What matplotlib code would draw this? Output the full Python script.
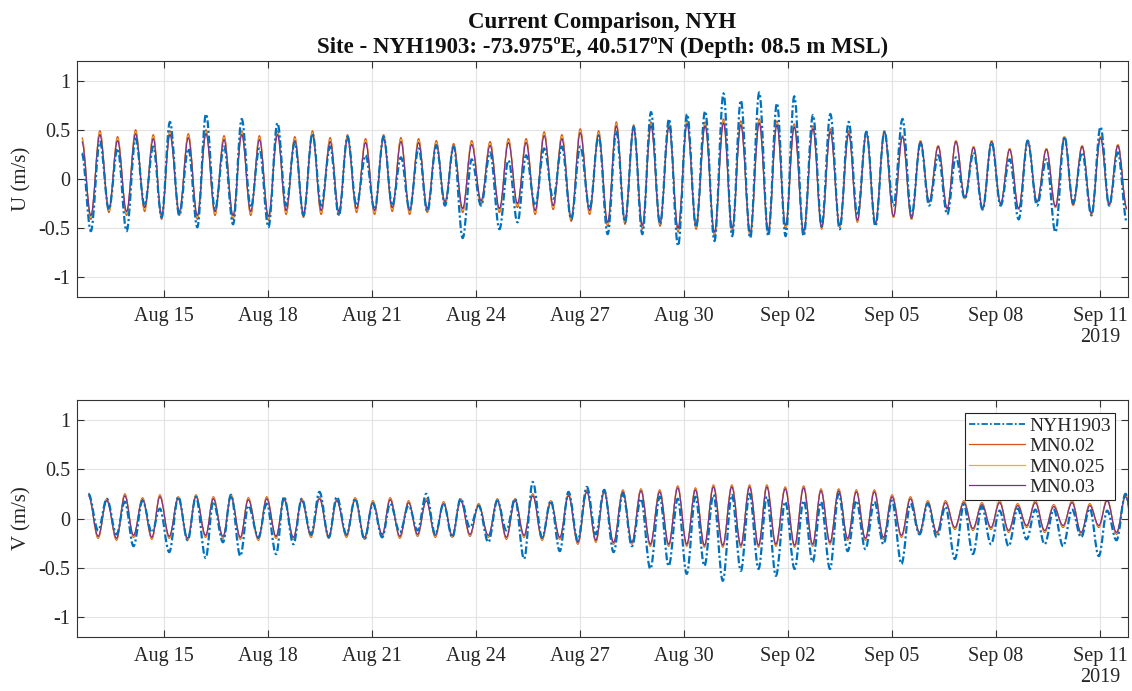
import datetime as dt
import numpy as np
import matplotlib
matplotlib.use('Agg')
import matplotlib.pyplot as plt
import matplotlib.dates as mdates
import matplotlib.transforms as mtransforms
from matplotlib.path import Path
from matplotlib.patches import PathPatch
from matplotlib.lines import Line2D

# Times are given as day-of-August 2019 (32.5 = Sep 1, 12:00).
# Each tidal cycle is stored as its flood peak and the following ebb trough.

# ---- U component ----
u_t_hi = [12.64, 13.16, 13.67, 14.19, 14.70, 15.18, 15.71, 16.22, 16.74, 17.25,
          17.76, 18.28, 18.78, 19.29, 19.80, 20.30, 20.82, 21.34, 21.84, 22.35,
          22.86, 23.36, 23.88, 24.41, 24.94, 25.45, 25.97, 26.48, 27.01, 27.54,
          28.05, 28.55, 29.05, 29.57, 30.09, 30.61, 31.14, 31.64, 32.17, 32.68,
          33.18, 33.72, 34.22, 34.75, 35.26, 35.78, 36.30, 36.82, 37.33, 37.84,
          38.35, 38.87, 39.39, 39.91, 40.45, 40.97, 41.48, 42.01, 42.51]
u_t_lo = [12.90, 13.42, 13.93, 14.45, 14.94, 15.45, 15.97, 16.48, 17.00, 17.51,
          18.02, 18.53, 19.03, 19.54, 20.05, 20.56, 21.08, 21.59, 22.09, 22.60,
          23.11, 23.62, 24.15, 24.68, 25.20, 25.71, 26.23, 26.75, 27.28, 27.80,
          28.30, 28.80, 29.31, 29.83, 30.35, 30.88, 31.39, 31.91, 32.43, 32.93,
          33.45, 33.97, 34.49, 35.00, 35.52, 36.04, 36.56, 37.07, 37.59, 38.10,
          38.61, 39.13, 39.65, 40.18, 40.71, 41.22, 41.75, 42.26, 42.77]

u_obs_hi = [0.26, 0.38, 0.31, 0.41, 0.33, 0.58, 0.31, 0.66, 0.33, 0.61,
            0.31, 0.57, 0.37, 0.46, 0.33, 0.43, 0.24, 0.43, 0.22, 0.31,
            0.34, 0.33, 0.20, 0.27, 0.19, 0.24, 0.31, 0.33, 0.33, 0.44,
            0.49, 0.53, 0.68, 0.61, 0.66, 0.69, 0.87, 0.80, 0.88, 0.77,
            0.84, 0.65, 0.66, 0.58, 0.48, 0.48, 0.61, 0.37, 0.24, 0.22,
            0.27, 0.37, 0.20, 0.39, 0.20, 0.43, 0.27, 0.53, 0.27]
u_obs_lo = [-0.53, -0.31, -0.53, -0.27, -0.39, -0.37, -0.49, -0.31, -0.46, -0.29,
            -0.49, -0.27, -0.37, -0.27, -0.37, -0.27, -0.31, -0.27, -0.31, -0.33,
            -0.27, -0.60, -0.27, -0.51, -0.44, -0.27, -0.20, -0.41, -0.30, -0.56,
            -0.44, -0.56, -0.46, -0.68, -0.49, -0.63, -0.58, -0.60, -0.58, -0.58,
            -0.58, -0.48, -0.51, -0.37, -0.48, -0.27, -0.37, -0.27, -0.36, -0.20,
            -0.31, -0.27, -0.41, -0.27, -0.54, -0.24, -0.37, -0.27, -0.44]

u_mn020_hi = [0.42, 0.49, 0.43, 0.50, 0.45, 0.49, 0.46, 0.50, 0.44, 0.49,
              0.44, 0.49, 0.43, 0.49, 0.42, 0.45, 0.41, 0.45, 0.42, 0.41,
              0.39, 0.36, 0.39, 0.38, 0.41, 0.41, 0.48, 0.45, 0.51, 0.49,
              0.58, 0.55, 0.58, 0.57, 0.60, 0.58, 0.61, 0.59, 0.61, 0.59,
              0.56, 0.54, 0.51, 0.49, 0.48, 0.49, 0.44, 0.39, 0.34, 0.39,
              0.33, 0.39, 0.31, 0.39, 0.31, 0.43, 0.34, 0.43, 0.35]
u_mn020_lo = [-0.41, -0.34, -0.37, -0.33, -0.41, -0.37, -0.41, -0.37, -0.41, -0.37,
              -0.42, -0.36, -0.39, -0.36, -0.37, -0.34, -0.36, -0.33, -0.36, -0.34,
              -0.27, -0.34, -0.26, -0.34, -0.29, -0.36, -0.31, -0.43, -0.36, -0.48,
              -0.46, -0.51, -0.48, -0.54, -0.51, -0.58, -0.54, -0.58, -0.56, -0.51,
              -0.56, -0.51, -0.49, -0.44, -0.46, -0.39, -0.41, -0.24, -0.31, -0.20,
              -0.31, -0.26, -0.31, -0.24, -0.29, -0.27, -0.36, -0.27, -0.31]

u_mn025_hi = [0.40, 0.47, 0.41, 0.48, 0.43, 0.47, 0.44, 0.48, 0.42, 0.47,
              0.42, 0.47, 0.41, 0.47, 0.40, 0.43, 0.39, 0.43, 0.40, 0.39,
              0.37, 0.34, 0.37, 0.36, 0.39, 0.39, 0.46, 0.43, 0.49, 0.47,
              0.56, 0.53, 0.56, 0.55, 0.58, 0.56, 0.59, 0.57, 0.59, 0.57,
              0.54, 0.52, 0.49, 0.47, 0.48, 0.49, 0.44, 0.39, 0.34, 0.39,
              0.33, 0.39, 0.31, 0.39, 0.31, 0.43, 0.34, 0.43, 0.35]
u_mn025_lo = [-0.39, -0.32, -0.35, -0.31, -0.39, -0.35, -0.39, -0.35, -0.39, -0.35,
              -0.40, -0.34, -0.37, -0.34, -0.35, -0.32, -0.34, -0.31, -0.34, -0.32,
              -0.25, -0.32, -0.24, -0.32, -0.27, -0.34, -0.29, -0.41, -0.34, -0.46,
              -0.44, -0.49, -0.46, -0.52, -0.49, -0.56, -0.52, -0.56, -0.54, -0.49,
              -0.54, -0.50, -0.48, -0.43, -0.46, -0.39, -0.41, -0.24, -0.31, -0.20,
              -0.31, -0.26, -0.31, -0.24, -0.29, -0.27, -0.36, -0.27, -0.31]

u_mn030_hi = [0.38, 0.45, 0.39, 0.46, 0.41, 0.45, 0.42, 0.46, 0.40, 0.45,
              0.40, 0.45, 0.39, 0.45, 0.38, 0.41, 0.37, 0.41, 0.38, 0.37,
              0.35, 0.32, 0.35, 0.34, 0.37, 0.37, 0.44, 0.41, 0.47, 0.45,
              0.54, 0.51, 0.54, 0.53, 0.56, 0.54, 0.57, 0.55, 0.57, 0.55,
              0.53, 0.51, 0.48, 0.46, 0.47, 0.48, 0.43, 0.38, 0.33, 0.38,
              0.32, 0.38, 0.30, 0.38, 0.30, 0.42, 0.33, 0.42, 0.34]
u_mn030_lo = [-0.37, -0.30, -0.33, -0.29, -0.37, -0.33, -0.37, -0.33, -0.37, -0.33,
              -0.38, -0.32, -0.35, -0.32, -0.33, -0.30, -0.32, -0.29, -0.32, -0.30,
              -0.23, -0.30, -0.22, -0.30, -0.25, -0.32, -0.27, -0.39, -0.32, -0.44,
              -0.42, -0.47, -0.44, -0.50, -0.47, -0.54, -0.50, -0.54, -0.52, -0.47,
              -0.53, -0.49, -0.47, -0.42, -0.45, -0.38, -0.40, -0.23, -0.30, -0.19,
              -0.30, -0.25, -0.30, -0.23, -0.28, -0.26, -0.35, -0.26, -0.30]

# ---- V component ----
v_t_hi = [12.83, 13.36, 13.88, 14.39, 14.89, 15.42, 15.93, 16.43, 16.94, 17.44,
          17.97, 18.47, 18.98, 19.49, 19.99, 20.52, 21.03, 21.53, 22.06, 22.57,
          23.07, 23.56, 24.08, 24.62, 25.13, 25.64, 26.16, 26.67, 27.20, 27.70,
          28.24, 28.76, 29.30, 29.82, 30.33, 30.85, 31.38, 31.89, 32.39, 32.92,
          33.45, 33.95, 34.46, 34.97, 35.49, 36.00, 36.53, 37.03, 37.54, 38.07,
          38.59, 39.10, 39.62, 40.13, 40.66, 41.19, 41.70, 42.20, 42.73]
v_t_lo = [13.11, 13.64, 14.13, 14.66, 15.16, 15.69, 16.21, 16.71, 17.21, 17.73,
          18.24, 18.74, 19.25, 19.76, 20.27, 20.79, 21.30, 21.81, 22.32, 22.83,
          23.32, 23.83, 24.36, 24.88, 25.39, 25.91, 26.42, 26.94, 27.46, 27.97,
          28.50, 29.03, 29.56, 30.08, 30.59, 31.12, 31.64, 32.15, 32.65, 33.19,
          33.71, 34.21, 34.72, 35.23, 35.75, 36.27, 36.79, 37.29, 37.81, 38.33,
          38.85, 39.36, 39.88, 40.40, 40.93, 41.45, 41.96, 42.47, 42.99]

v_obs_hi = [0.25, 0.20, 0.17, 0.18, 0.10, 0.22, 0.22, 0.17, 0.24, 0.13,
            0.15, 0.22, 0.20, 0.27, 0.22, 0.20, 0.15, 0.15, 0.13, 0.25,
            0.15, 0.20, 0.13, 0.18, 0.20, 0.37, 0.18, 0.27, 0.32, 0.29,
            0.25, 0.20, 0.22, 0.20, 0.22, 0.24, 0.24, 0.25, 0.22, 0.17,
            0.18, 0.17, 0.25, 0.18, 0.17, 0.18, 0.15, 0.15, 0.12, 0.14,
            0.12, 0.08, 0.10, 0.09, 0.09, 0.09, 0.10, 0.08, 0.25]
v_obs_lo = [-0.12, -0.16, -0.28, -0.14, -0.34, -0.22, -0.40, -0.24, -0.38, -0.19,
            -0.36, -0.26, -0.16, -0.19, -0.16, -0.21, -0.19, -0.14, -0.12, -0.16,
            -0.19, -0.09, -0.24, -0.12, -0.41, -0.19, -0.33, -0.22, -0.16, -0.34,
            -0.28, -0.51, -0.48, -0.56, -0.48, -0.63, -0.53, -0.51, -0.58, -0.51,
            -0.44, -0.51, -0.33, -0.31, -0.26, -0.46, -0.16, -0.19, -0.41, -0.36,
            -0.26, -0.28, -0.21, -0.26, -0.28, -0.19, -0.38, -0.22, -0.20]

v_mn020_hi = [0.25, 0.20, 0.25, 0.21, 0.24, 0.22, 0.24, 0.22, 0.24, 0.21,
              0.22, 0.21, 0.20, 0.22, 0.20, 0.21, 0.18, 0.21, 0.18, 0.20,
              0.17, 0.20, 0.15, 0.20, 0.20, 0.25, 0.18, 0.25, 0.29, 0.29,
              0.29, 0.30, 0.29, 0.33, 0.31, 0.34, 0.34, 0.34, 0.34, 0.32,
              0.33, 0.30, 0.30, 0.29, 0.29, 0.24, 0.22, 0.18, 0.18, 0.18,
              0.16, 0.18, 0.15, 0.18, 0.14, 0.18, 0.15, 0.20, 0.24]
v_mn020_lo = [-0.20, -0.22, -0.19, -0.21, -0.20, -0.22, -0.19, -0.20, -0.21, -0.22,
              -0.20, -0.21, -0.19, -0.20, -0.19, -0.21, -0.18, -0.20, -0.18, -0.19,
              -0.19, -0.18, -0.19, -0.21, -0.19, -0.22, -0.21, -0.26, -0.24, -0.26,
              -0.26, -0.28, -0.28, -0.28, -0.29, -0.29, -0.29, -0.29, -0.28, -0.29,
              -0.28, -0.26, -0.22, -0.22, -0.21, -0.19, -0.16, -0.16, -0.11, -0.12,
              -0.11, -0.14, -0.09, -0.14, -0.09, -0.16, -0.09, -0.16, -0.12]

v_mn025_hi = [0.24, 0.19, 0.24, 0.20, 0.23, 0.21, 0.23, 0.21, 0.23, 0.20,
              0.21, 0.20, 0.19, 0.21, 0.19, 0.20, 0.17, 0.20, 0.17, 0.19,
              0.16, 0.19, 0.14, 0.19, 0.19, 0.24, 0.17, 0.24, 0.28, 0.28,
              0.28, 0.29, 0.28, 0.32, 0.30, 0.33, 0.33, 0.33, 0.33, 0.31,
              0.32, 0.29, 0.29, 0.28, 0.28, 0.23, 0.21, 0.17, 0.17, 0.17,
              0.15, 0.17, 0.14, 0.17, 0.13, 0.17, 0.14, 0.19, 0.23]
v_mn025_lo = [-0.19, -0.21, -0.18, -0.20, -0.19, -0.21, -0.18, -0.19, -0.20, -0.21,
              -0.19, -0.20, -0.18, -0.19, -0.18, -0.20, -0.17, -0.19, -0.17, -0.18,
              -0.18, -0.17, -0.18, -0.20, -0.18, -0.21, -0.20, -0.25, -0.23, -0.25,
              -0.25, -0.27, -0.27, -0.27, -0.28, -0.28, -0.28, -0.28, -0.27, -0.28,
              -0.27, -0.25, -0.21, -0.21, -0.20, -0.18, -0.15, -0.15, -0.10, -0.11,
              -0.10, -0.13, -0.08, -0.13, -0.08, -0.15, -0.08, -0.15, -0.11]

v_mn030_hi = [0.23, 0.18, 0.23, 0.19, 0.22, 0.20, 0.22, 0.20, 0.22, 0.19,
              0.20, 0.19, 0.18, 0.20, 0.18, 0.19, 0.16, 0.19, 0.16, 0.18,
              0.15, 0.18, 0.13, 0.18, 0.18, 0.23, 0.16, 0.23, 0.27, 0.27,
              0.27, 0.28, 0.27, 0.31, 0.29, 0.32, 0.32, 0.32, 0.32, 0.30,
              0.31, 0.28, 0.28, 0.27, 0.27, 0.22, 0.20, 0.16, 0.16, 0.16,
              0.14, 0.16, 0.13, 0.16, 0.12, 0.16, 0.13, 0.18, 0.22]
v_mn030_lo = [-0.18, -0.20, -0.17, -0.19, -0.18, -0.20, -0.17, -0.18, -0.19, -0.20,
              -0.18, -0.19, -0.17, -0.18, -0.17, -0.19, -0.16, -0.18, -0.16, -0.17,
              -0.17, -0.16, -0.17, -0.19, -0.17, -0.20, -0.19, -0.24, -0.22, -0.24,
              -0.24, -0.26, -0.26, -0.26, -0.27, -0.27, -0.27, -0.27, -0.26, -0.27,
              -0.26, -0.24, -0.20, -0.20, -0.19, -0.17, -0.14, -0.14, -0.09, -0.10,
              -0.09, -0.12, -0.07, -0.12, -0.07, -0.14, -0.07, -0.14, -0.10]

series_names = ['NYH1903', 'MN0.02', 'MN0.025', 'MN0.03']
series_colors = ['#0072BD', '#D95319', '#EDB120', '#7E2F8E']

x_range = [12.5, 42.8]
tick_days = [15, 18, 21, 24, 27, 30, 33, 36, 39, 42]

title_1 = 'Current Comparison, NYH'
title_2 = 'Site - NYH1903: -73.975\u00baE, 40.517\u00baN (Depth: 08.5 m MSL)'

SERIF = ['Liberation Serif', 'DejaVu Serif']
TXT = '#262626'
OBS_DASH = (0, (3.5, 1.2, 1, 1.2))

BASE = mdates.date2num(dt.datetime(2019, 8, 1))


def to_num(days):
    return BASE + np.asarray(days, dtype=float) - 1.0


def tidal_path(t_hi, hi, t_lo, lo, k=1 - 2 / np.pi):
    # peaks and troughs joined by cubic segments with flat tangents at the extremes
    t = np.empty(2 * len(hi))
    y = np.empty(2 * len(hi))
    t[0::2], t[1::2] = to_num(t_hi), to_num(t_lo)
    y[0::2], y[1::2] = hi, lo
    verts = [(t[0], y[0])]
    codes = [Path.MOVETO]
    for i in range(len(t) - 1):
        d = t[i + 1] - t[i]
        verts += [(t[i] + k * d, y[i]), (t[i + 1] - k * d, y[i + 1]), (t[i + 1], y[i + 1])]
        codes += [Path.CURVE4] * 3
    return Path(verts, codes)


def style_axes(ax, ylabel):
    ax.set_xlim(to_num(x_range))
    ax.set_ylim(-1.2, 1.2)
    ax.set_yticks([-1, -0.5, 0, 0.5, 1])
    ax.set_yticklabels(['-1', '-0.5', '0', '0.5', '1'])
    ax.set_xticks(to_num(tick_days))
    ax.xaxis.set_major_formatter(mdates.DateFormatter('%b %d'))
    ax.grid(True, color='#e3e3e3', lw=0.8)
    ax.set_axisbelow(True)
    ax.tick_params(direction='in', top=True, right=True, length=5, width=0.8,
                   color='#333333', labelcolor=TXT, labelsize=14.5)
    ax.tick_params(axis='x', pad=7)
    ax.tick_params(axis='y', pad=5)
    for lab in ax.get_xticklabels() + ax.get_yticklabels():
        lab.set_family(SERIF)
    for sp in ax.spines.values():
        sp.set_color('#333333')
        sp.set_linewidth(0.8)
    ax.set_ylabel(ylabel, family=SERIF, fontsize=15, color=TXT)
    ax.yaxis.set_label_coords(-0.043, 0.5)
    trans = mtransforms.blended_transform_factory(ax.transData, ax.transAxes)
    ax.text(to_num(tick_days[-1]), -0.17, '2019', transform=trans, ha='center',
            va='center', family=SERIF, fontsize=14.5, color=TXT)


def draw_panel(ax, t_hi, t_lo, runs):
    # model runs first, measured record on top
    for i in range(1, len(runs)):
        hi, lo = runs[i]
        ax.add_patch(PathPatch(tidal_path(t_hi, hi, t_lo, lo), fill=False,
                               edgecolor=series_colors[i], lw=0.9, zorder=2 + i))
    hi, lo = runs[0]
    ax.add_patch(PathPatch(tidal_path(t_hi, hi, t_lo, lo), fill=False,
                           edgecolor=series_colors[0], lw=1.6, linestyle=OBS_DASH,
                           zorder=8))


fig = plt.figure(figsize=(11.32, 6.91), dpi=100)
ax_u = fig.add_axes([0.0680, 0.5702, 0.9284, 0.3415])
ax_v = fig.add_axes([0.0680, 0.0781, 0.9284, 0.3430])

draw_panel(ax_u, u_t_hi, u_t_lo,
           [(u_obs_hi, u_obs_lo), (u_mn020_hi, u_mn020_lo),
            (u_mn025_hi, u_mn025_lo), (u_mn030_hi, u_mn030_lo)])
draw_panel(ax_v, v_t_hi, v_t_lo,
           [(v_obs_hi, v_obs_lo), (v_mn020_hi, v_mn020_lo),
            (v_mn025_hi, v_mn025_lo), (v_mn030_hi, v_mn030_lo)])

style_axes(ax_u, 'U (m/s)')
style_axes(ax_v, 'V (m/s)')

handles = [Line2D([], [], color=series_colors[0], lw=1.3, linestyle=OBS_DASH)]
handles += [Line2D([], [], color=c, lw=0.9) for c in series_colors[1:]]
leg = ax_v.legend(handles, series_names, loc='upper right', bbox_to_anchor=(0.9876, 0.945),
                  borderaxespad=0, fancybox=False, framealpha=1, edgecolor='#222222',
                  prop={'family': SERIF, 'size': 14}, handlelength=2.9, handletextpad=0.2,
                  labelspacing=0.15, borderpad=0.2)
leg.get_frame().set_linewidth(0.8)
leg.set_zorder(10)
for txt in leg.get_texts():
    txt.set_color(TXT)

fig.text(0.532, 0.959, title_1, ha='center', va='baseline', family=SERIF,
         fontsize=16.5, fontweight='bold', color='#111111')
fig.text(0.532, 0.924, title_2, ha='center', va='baseline', family=SERIF,
         fontsize=16.5, fontweight='bold', color='#111111')

fig.savefig('out.png', dpi=100)
